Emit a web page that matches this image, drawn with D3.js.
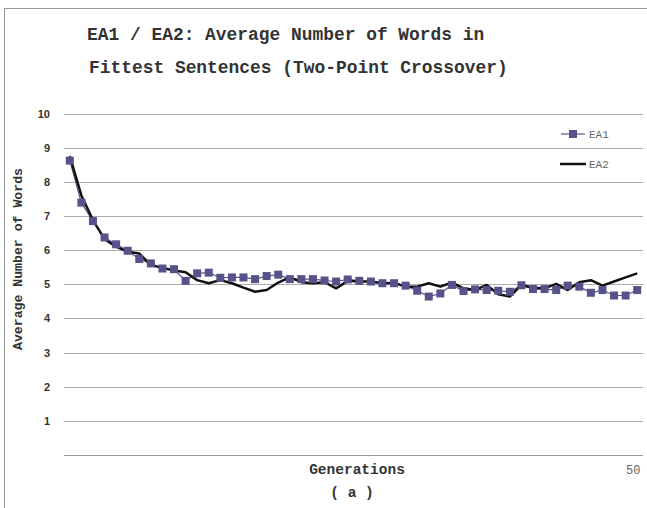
<!DOCTYPE html>
<html>
<head>
<meta charset="utf-8">
<script src="https://cdn.jsdelivr.net/npm/d3@7"></script>
<style>
  body { margin: 0; background: #fff; }
  svg { display: block; }
</style>
</head>
<body>
<svg id="chart" width="647" height="508"></svg>
<script>
// generations 1..50
const generations = d3.range(1, 51);
const yTicks = [1, 2, 3, 4, 5, 6, 7, 8, 9, 10];
const xTickLabels = ["50"];

const ea1 = [8.62, 7.39, 6.85, 6.37, 6.17, 5.98, 5.74, 5.61, 5.46, 5.44,
  5.10, 5.32, 5.34, 5.19, 5.20, 5.20, 5.15, 5.24, 5.28, 5.15,
  5.15, 5.15, 5.11, 5.08, 5.14, 5.10, 5.08, 5.03, 5.03, 4.96,
  4.81, 4.64, 4.73, 4.98, 4.80, 4.85, 4.83, 4.81, 4.78, 4.97,
  4.86, 4.86, 4.83, 4.96, 4.93, 4.75, 4.83, 4.67, 4.67, 4.83];

const ea2 = [8.75, 7.60, 6.88, 6.32, 6.10, 5.95, 5.90, 5.56, 5.48, 5.40,
  5.35, 5.12, 5.03, 5.12, 5.03, 4.90, 4.78, 4.83, 5.05, 5.20,
  5.06, 5.03, 5.06, 4.88, 5.10, 5.08, 5.08, 5.03, 5.04, 4.93,
  4.93, 5.03, 4.93, 5.05, 4.88, 4.83, 4.98, 4.71, 4.64, 4.98,
  4.90, 4.88, 5.01, 4.83, 5.06, 5.12, 4.96, 5.08, 5.20, 5.32];

const mono = "'Courier New', 'Liberation Mono', monospace";
const sans = "Arial, 'Liberation Sans', sans-serif";

const svg = d3.select("#chart");

// outer frame
svg.append("rect")
  .attr("x", 4.5).attr("y", 8.5)
  .attr("width", 700).attr("height", 600)
  .attr("fill", "none").attr("stroke", "#999");

const plot = { left: 64, right: 643, top: 113.5, bottom: 455 };

const x = d3.scalePoint()
  .domain(generations)
  .range([plot.left, plot.right])
  .padding(0.5);

const y = d3.scaleLinear()
  .domain([0, 10])
  .range([plot.bottom, plot.top]);

// gridlines
svg.append("g")
  .selectAll("line")
  .data([0].concat(yTicks))
  .join("line")
  .attr("x1", plot.left).attr("x2", plot.right)
  .attr("y1", d => Math.round(y(d)) + 0.5)
  .attr("y2", d => Math.round(y(d)) + 0.5)
  .attr("stroke", d => d === 0 ? "#999" : "#aaa")
  .attr("stroke-width", 1);

// y tick labels
svg.append("g")
  .selectAll("text")
  .data(yTicks)
  .join("text")
  .attr("x", 50)
  .attr("y", d => y(d) + 4)
  .attr("text-anchor", "end")
  .attr("font-family", sans)
  .attr("font-weight", "bold")
  .attr("font-size", 11)
  .attr("fill", "#333")
  .text(d => d);

// x tick label
svg.append("g")
  .selectAll("text")
  .data(xTickLabels)
  .join("text")
  .attr("x", d => x(+d) - 4)
  .attr("y", 474)
  .attr("text-anchor", "middle")
  .attr("font-family", mono)
  .attr("font-size", 12)
  .attr("fill", "#666")
  .text(d => d);

// lines
const line = d3.line()
  .x((d, i) => x(generations[i]))
  .y(d => y(d));

svg.append("path")
  .datum(ea1)
  .attr("d", line)
  .attr("fill", "none")
  .attr("stroke", "#57538a")
  .attr("stroke-width", 1.2);

svg.append("path")
  .datum(ea2)
  .attr("d", line)
  .attr("fill", "none")
  .attr("stroke", "#111")
  .attr("stroke-width", 2.5)
  .attr("stroke-linejoin", "round");

svg.append("g")
  .selectAll("rect")
  .data(ea1)
  .join("rect")
  .attr("x", (d, i) => x(generations[i]) - 4)
  .attr("y", d => y(d) - 4)
  .attr("width", 8).attr("height", 8)
  .attr("fill", "#57538a");

// legend
const legend = svg.append("g");
legend.append("line")
  .attr("x1", 561).attr("x2", 585).attr("y1", 134).attr("y2", 134)
  .attr("stroke", "#57538a").attr("stroke-width", 1.2);
legend.append("rect")
  .attr("x", 569).attr("y", 130).attr("width", 8).attr("height", 8)
  .attr("fill", "#57538a");
legend.append("line")
  .attr("x1", 560).attr("x2", 586).attr("y1", 164).attr("y2", 164)
  .attr("stroke", "#111").attr("stroke-width", 2.5);
legend.selectAll("text")
  .data(["EA1", "EA2"])
  .join("text")
  .attr("x", 589)
  .attr("y", (d, i) => 138 + i * 30)
  .attr("font-family", mono)
  .attr("font-size", 11)
  .attr("fill", "#666")
  .text(d => d);

// title
const title = svg.append("g")
  .attr("font-family", mono)
  .attr("font-weight", "bold")
  .attr("font-size", 17.9)
  .attr("fill", "#333");
title.append("text").attr("x", 87).attr("y", 40)
  .text("EA1 / EA2: Average Number of Words in");
title.append("text").attr("x", 89).attr("y", 73)
  .text("Fittest Sentences (Two-Point Crossover)");

// axis titles
svg.append("text")
  .attr("transform", "translate(22,259) rotate(-90)")
  .attr("text-anchor", "middle")
  .attr("font-family", mono)
  .attr("font-weight", "bold")
  .attr("font-size", 13.2)
  .attr("fill", "#333")
  .text("Average Number of Words");

svg.append("text")
  .attr("x", 357).attr("y", 474)
  .attr("text-anchor", "middle")
  .attr("font-family", mono)
  .attr("font-weight", "bold")
  .attr("font-size", 14.5)
  .attr("fill", "#333")
  .text("Generations");

svg.append("text")
  .attr("x", 352).attr("y", 497)
  .attr("text-anchor", "middle")
  .attr("font-family", mono)
  .attr("font-weight", "bold")
  .attr("font-size", 14.5)
  .attr("fill", "#333")
  .text("( a )");
</script>
</body>
</html>
